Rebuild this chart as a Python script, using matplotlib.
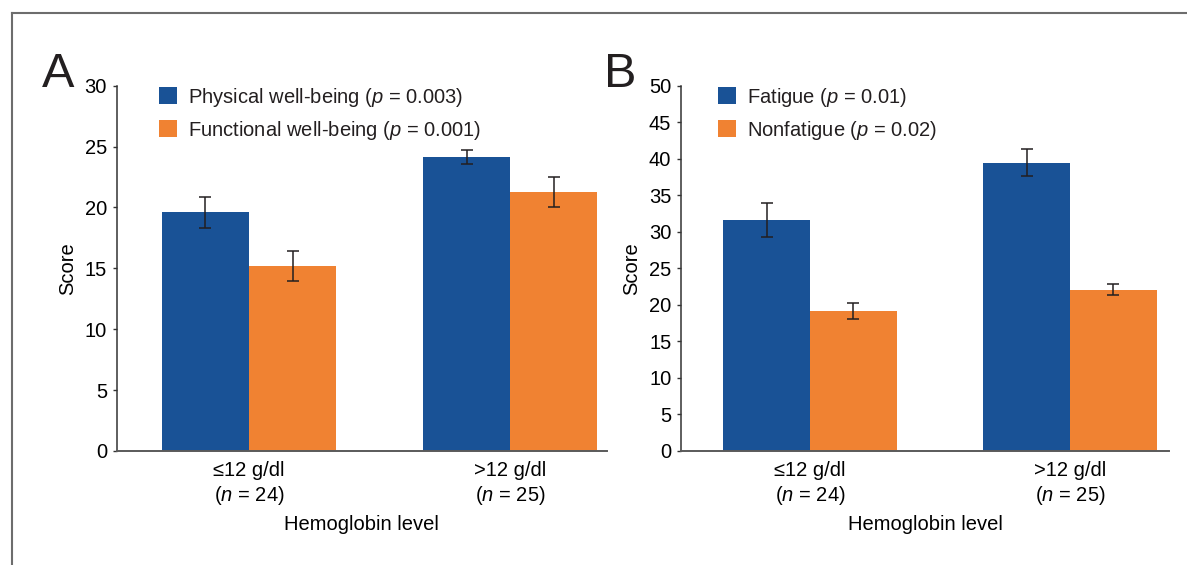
import matplotlib
matplotlib.use('Agg')
import matplotlib.pyplot as plt
import numpy as np
from matplotlib.lines import Line2D

plt.rcParams['font.family'] = ['Liberation Sans', 'DejaVu Sans']
plt.rcParams['mathtext.fontset'] = 'custom'
plt.rcParams['mathtext.rm'] = 'Liberation Sans'
plt.rcParams['mathtext.it'] = 'Liberation Sans:italic'
plt.rcParams['text.color'] = '#231f20'

# dados
grupos = ['≤12 g/dl\n($\\it{n}$ = 24)', '>12 g/dl\n($\\it{n}$ = 25)']

fisico = [19.6, 24.15]
fisico_err = [1.3, 0.58]
funcional = [15.2, 21.3]
funcional_err = [1.2, 1.23]

fadiga = [31.65, 39.45]
fadiga_err = [2.35, 1.85]
nao_fadiga = [19.2, 22.1]
nao_fadiga_err = [1.07, 0.8]

rotulos_a = ['Physical well-being ($\\it{p}$ = 0.003)', 'Functional well-being ($\\it{p}$ = 0.001)']
rotulos_b = ['Fatigue ($\\it{p}$ = 0.01)', 'Nonfatigue ($\\it{p}$ = 0.02)']

AZUL = '#195296'
LARANJA = '#f08232'
ESCURO = '#231f20'
FS = 14.5

W, H = 1187, 565
fig = plt.figure(figsize=(W/100, H/100), dpi=100)


def painel(rect, s1, e1, s2, e2, rotulos, ymax, xlim, leg_x):
    ax = fig.add_axes(rect)
    x = np.arange(len(grupos))
    w = 0.334
    ax.bar(x - w/2, s1, w, color=AZUL, label=rotulos[0])
    ax.bar(x + w/2, s2, w, color=LARANJA, label=rotulos[1])
    ax.errorbar(x - w/2, s1, yerr=e1, fmt='none', ecolor=ESCURO, elinewidth=1.1, capsize=4, capthick=1.1)
    ax.errorbar(x + w/2, s2, yerr=e2, fmt='none', ecolor=ESCURO, elinewidth=1.1, capsize=4, capthick=1.1)
    ax.set_xlim(*xlim)
    ax.set_ylim(0, ymax)
    ax.set_yticks(np.arange(0, ymax + 1, 5))
    ax.set_xticks(x)
    ax.set_xticklabels(grupos, fontsize=FS, linespacing=1.25)
    ax.tick_params(axis='x', length=0, pad=7)
    ax.tick_params(axis='y', length=3, width=1, color='#333333', labelsize=FS, pad=4)
    for s in ['top', 'right']:
        ax.spines[s].set_visible(False)
    ax.spines['left'].set_color('#333333')
    ax.spines['bottom'].set_color('#5a5a5a')
    ax.spines['left'].set_linewidth(1.1)
    ax.spines['bottom'].set_linewidth(1.4)
    ax.set_xlabel('Hemoglobin level', fontsize=FS)
    ax.set_ylabel('Score', fontsize=FS)
    larg = rect[2] * W
    alt = rect[3] * H
    ax.xaxis.set_label_coords(0.5, -64 / alt)
    ax.yaxis.set_label_coords(-40 / larg, 0.5)
    ax.legend(loc='upper left', bbox_to_anchor=(leg_x / larg, 1.0), frameon=False,
              fontsize=FS, borderaxespad=0, borderpad=0, handlelength=0.88,
              handleheight=0.91, handletextpad=0.55, labelspacing=0.5)
    return ax


topo = 85.7
base = 451
ax_a = painel([116.7/W, 1 - base/H, 490/W, (base - topo)/H],
              fisico, fisico_err, funcional, funcional_err, rotulos_a, 30,
              (-0.507, 1.370), 42.3)
ax_b = painel([681/W, 1 - base/H, 488/W, (base - topo)/H],
              fadiga, fadiga_err, nao_fadiga, nao_fadiga_err, rotulos_b, 50,
              (-0.496, 1.381), 37)

fig.text(41.7/W, 1 - 86.7/H, 'A', fontsize=35, va='baseline', ha='left')
fig.text(604/W, 1 - 86.7/H, 'B', fontsize=35, va='baseline', ha='left')

# moldura
fig.add_artist(Line2D([11.5/W, 11.5/W], [0, 1 - 12.7/H], transform=fig.transFigure, color='#6d6d6d', lw=1.5))
fig.add_artist(Line2D([11.5/W, 1], [1 - 12.7/H, 1 - 12.7/H], transform=fig.transFigure, color='#6d6d6d', lw=1.5))

plt.savefig('out.png', dpi=100)
